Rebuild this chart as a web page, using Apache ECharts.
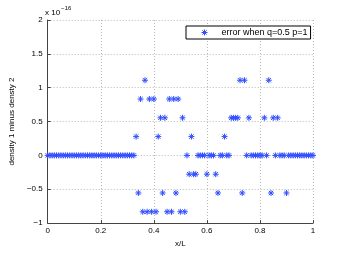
<!DOCTYPE html>
<html>
<head>
<meta charset="utf-8">
<script src="https://cdn.jsdelivr.net/npm/echarts@6/dist/echarts.min.js"></script>
<style>
html,body{margin:0;padding:0;background:#fff;}
#c{width:346px;height:253px;}
</style>
</head>
<body>
<div id="c"></div>
<script>
// x/L sample positions
const xVals = [
  0, 0.0083, 0.0167, 0.025, 0.0333, 0.0417, 0.05, 0.0583, 0.0667, 0.075, 0.0833, 0.0917,
  0.1, 0.1083, 0.1167, 0.125, 0.1333, 0.1417, 0.15, 0.1583, 0.1667, 0.175, 0.1833, 0.1917,
  0.2, 0.2083, 0.2167, 0.225, 0.2333, 0.2417, 0.25, 0.2583, 0.2667, 0.275, 0.2833, 0.2917,
  0.3, 0.3083, 0.3167, 0.325, 0.3333, 0.3417, 0.35, 0.3583, 0.3667, 0.375, 0.3833, 0.3917,
  0.4, 0.4083, 0.4167, 0.425, 0.4333, 0.4417, 0.45, 0.4583, 0.4667, 0.475, 0.4833, 0.4917,
  0.5, 0.5083, 0.5167, 0.525, 0.5333, 0.5417, 0.55, 0.5583, 0.5667, 0.575, 0.5833, 0.5917,
  0.6, 0.6083, 0.6167, 0.625, 0.6333, 0.6417, 0.65, 0.6583, 0.6667, 0.675, 0.6833, 0.6917,
  0.7, 0.7083, 0.7167, 0.725, 0.7333, 0.7417, 0.75, 0.7583, 0.7667, 0.775, 0.7833, 0.7917,
  0.8, 0.8083, 0.8167, 0.825, 0.8333, 0.8417, 0.85, 0.8583, 0.8667, 0.875, 0.8833, 0.8917,
  0.9, 0.9083, 0.9167, 0.925, 0.9333, 0.9417, 0.95, 0.9583, 0.9667, 0.975, 0.9833, 0.9917,
  1
];
// density 1 minus density 2, in units of 1e-16
const errVals = [
  0, 0, 0, 0, 0, 0, 0, 0, 0, 0, 0, 0,
  0, 0, 0, 0, 0, 0, 0, 0, 0, 0, 0, 0,
  0, 0, 0, 0, 0, 0, 0, 0, 0, 0, 0, 0,
  0, 0, 0, 0, 0.2776, -0.5551, 0.8327, -0.8327, 1.1102, -0.8327, 0.8327, -0.8327,
  0.8327, -0.8327, 0.2776, 0.5551, -0.5551, 0.5551, -0.8327, 0.8327, -0.8327, 0.8327, -0.5551, 0.8327,
  -0.8327, 0.5551, -0.8327, 0, -0.2776, 0.2776, -0.2776, -0.2776, 0, 0, 0, 0,
  -0.2776, 0, 0, 0, -0.2776, -0.5551, 0, 0, 0.2776, 0, 0, 0.5551,
  0.5551, 0.5551, 0.5551, 1.1102, -0.5551, 1.1102, 0, 0.5551, 0, 0, 0, 0,
  0, 0, 0.5551, 0, 1.1102, -0.5551, 0.5551, 0, 0.5551, 0, 0, 0,
  -0.5551, 0, 0, 0, 0, 0, 0, 0, 0, 0, 0, 0,
  0
];
const seriesName = 'error when q=0.5 p=1';
const xTicks = [0, 0.2, 0.4, 0.6, 0.8, 1];
const yTicks = [-1, -0.5, 0, 0.5, 1, 1.5, 2];

const FONT = 'Liberation Sans, Arial, sans-serif';
const BLUE = '#2f4dff';
const STAR = 'path://M0,-5L0,5M-5,0L5,0M-3.6,-3.6L3.6,3.6M-3.6,3.6L3.6,-3.6';
const pts = xVals.map((x, i) => [x, errVals[i]]);

const chart = echarts.init(document.getElementById('c'), null, {renderer: 'canvas'});
chart.setOption({
  animation: false,
  backgroundColor: '#fff',
  textStyle: {fontFamily: FONT},
  grid: {left: 45, right: 33, top: 20, bottom: 28, containLabel: false},
  legend: {
    show: true,
    data: [{name: seriesName, icon: STAR}],
    left: 186, top: 26,
    orient: 'vertical',
    backgroundColor: '#fff',
    borderColor: '#000', borderWidth: 1, borderRadius: 0,
    padding: [2, 3, 2, 15],
    itemWidth: 6, itemHeight: 6, itemGap: 0,
    itemStyle: {color: BLUE, borderColor: BLUE, borderWidth: 1},
    textStyle: {fontSize: 9, color: '#000', fontFamily: FONT, padding: [0, 0, 0, 9]}
  },
  xAxis: {
    type: 'value', min: 0, max: 1, interval: 0.2,
    name: 'x/L', nameLocation: 'middle', nameGap: 12,
    nameTextStyle: {fontSize: 8, color: '#000', fontFamily: FONT},
    axisLine: {show: true, onZero: false, lineStyle: {color: '#444', width: 1}},
    axisTick: {show: true, inside: true, length: 3, lineStyle: {color: '#444'}},
    axisLabel: {fontSize: 8, color: '#000', margin: 4, fontFamily: FONT,
      formatter: v => String(xTicks.find(t => Math.abs(t - v) < 1e-9) ?? v)},
    splitLine: {show: true, showMinLine: false, lineStyle: {color: '#b8b8b8', type: [1, 2], width: 1}}
  },
  yAxis: {
    type: 'value', min: -1, max: 2, interval: 0.5,
    name: 'density 1 minus densty 2', nameLocation: 'middle', nameGap: 28,
    nameTextStyle: {fontSize: 8, color: '#000', fontFamily: FONT},
    axisLine: {show: true, onZero: false, lineStyle: {color: '#444', width: 1}},
    axisTick: {show: true, inside: true, length: 3, lineStyle: {color: '#444'}},
    axisLabel: {fontSize: 8, color: '#000', margin: 5, fontFamily: FONT,
      formatter: v => {
        const t = yTicks.find(t => Math.abs(t - v) < 1e-9);
        return String(t ?? v).replace('-', '\u2212');
      }},
    splitLine: {show: true, showMinLine: false, lineStyle: {color: '#b8b8b8', type: [1, 2], width: 1}}
  },
  graphic: [{
    type: 'text', left: 45, top: 5,
    style: {
      text: '{a|x 10}{b|\u221216}',
      fill: '#000',
      rich: {
        a: {fontSize: 8, fontFamily: FONT, verticalAlign: 'bottom', padding: [4, 0, 0, 0]},
        b: {fontSize: 6, fontFamily: FONT, verticalAlign: 'top', padding: [0, 0, 4, 1]}
      }
    }
  }],
  series: [{
    type: 'scatter',
    name: seriesName,
    data: pts,
    symbol: STAR,
    symbolSize: 6,
    itemStyle: {color: BLUE, borderColor: BLUE, borderWidth: 1, opacity: 1},
    z: 3
  }]
});
</script>
</body>
</html>
